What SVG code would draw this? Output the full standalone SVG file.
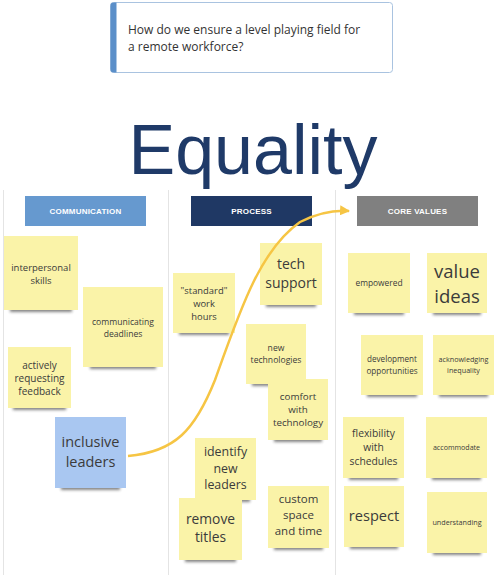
<svg xmlns="http://www.w3.org/2000/svg" width="500" height="575" viewBox="0 0 500 575">
<style>
.st{fill:#faf3a8}
.bl{fill:#a9c7f1}
.sh{fill:#333333;opacity:.6;filter:url(#blur)}
.t{font-family:"Open Sans","DejaVu Sans",sans-serif;fill:#3b3b3b;text-anchor:middle}
.hd{font-family:"Liberation Sans",Arial,sans-serif;font-weight:bold;font-size:8px;fill:#ffffff;text-anchor:middle;letter-spacing:.2px}
.div{stroke:#e4e4e4;stroke-width:1}
</style>
<defs>
<filter id="blur" x="-20%" y="-200%" width="140%" height="500%"><feGaussianBlur stdDeviation="1.6"/></filter>
<marker id="ah" viewBox="0 0 10 10" refX="9" refY="5" markerWidth="4" markerHeight="4" orient="auto" markerUnits="strokeWidth"><path d="M0,0 L10,5 L0,10 z" fill="#f6c544"/></marker>
</defs>
<rect width="500" height="575" fill="#ffffff"/>
<g id="dividers">
<line class="div" x1="3.5" y1="190" x2="3.5" y2="575"/>
<line class="div" x1="168.5" y1="190" x2="168.5" y2="575"/>
<line class="div" x1="335.5" y1="190" x2="335.5" y2="575"/>
</g>
<g id="question">
<rect x="110.5" y="2.5" width="282" height="70" rx="3" fill="#ffffff" stroke="#a9c3e0" stroke-width="1"/>
<path d="M113.5,2.5 h3 v70 h-3 a3,3 0 0 1 -3,-3 v-64 a3,3 0 0 1 3,-3z" fill="#5b8fc9"/>
<text x="128" y="34" font-family="'Open Sans','DejaVu Sans',sans-serif" font-size="12" fill="#333333">How do we ensure a level playing field for</text>
<text x="128" y="51" font-family="'Open Sans','DejaVu Sans',sans-serif" font-size="12" fill="#333333">a remote workforce?</text>
</g>
<g id="title">
<text x="253" y="174" font-family="'Liberation Sans',Arial,sans-serif" font-size="70" fill="#1f3a68" text-anchor="middle">Equality</text>
</g>
<g id="h-communication">
<rect x="25" y="196" width="121" height="30" fill="#6699cf"/>
<text class="hd" x="85.5" y="214">COMMUNICATION</text>
</g>
<g id="h-process">
<rect x="191" y="196" width="121" height="30" fill="#1f3864"/>
<text class="hd" x="251.5" y="214">PROCESS</text>
</g>
<g id="h-core">
<rect x="357" y="196" width="121" height="30" fill="#808080"/>
<text class="hd" x="417.5" y="214">CORE VALUES</text>
</g>
<g id="n-interpersonal">
<rect class="sh" x="10" y="307" width="62" height="5"/>
<rect class="st" x="4" y="236" width="74" height="74"/>
<text class="t" font-size="9.5" x="41" y="271">interpersonal</text>
<text class="t" font-size="9.5" x="41" y="284">skills</text>
</g>
<g id="n-communicating">
<rect class="sh" x="90" y="364" width="66" height="5"/>
<rect class="st" x="83" y="287" width="80" height="80"/>
<text class="t" font-size="8.6" x="123" y="325">communicating</text>
<text class="t" font-size="8.6" x="123" y="337">deadlines</text>
</g>
<g id="n-actively">
<rect class="sh" x="13" y="405" width="53" height="5"/>
<rect class="st" x="8" y="347" width="63" height="61"/>
<text class="t" font-size="10" x="39.5" y="369">actively</text>
<text class="t" font-size="10" x="39.5" y="382">requesting</text>
<text class="t" font-size="10" x="39.5" y="395">feedback</text>
</g>
<g id="n-inclusive">
<rect class="sh" x="61" y="485" width="59" height="5"/>
<rect class="bl" x="55" y="417" width="71" height="71"/>
<text class="t" font-size="14.5" x="90.5" y="447" fill="#2f3b4a">inclusive</text>
<text class="t" font-size="14.5" x="90.5" y="467" fill="#2f3b4a">leaders</text>
</g>
<g id="n-standard">
<rect class="sh" x="179" y="330" width="50" height="5"/>
<rect class="st" x="173" y="273" width="62" height="60"/>
<text class="t" font-size="9.4" x="204" y="294">"standard"</text>
<text class="t" font-size="9.4" x="204" y="307">work</text>
<text class="t" font-size="9.4" x="204" y="320">hours</text>
</g>
<g id="n-tech">
<rect class="sh" x="266" y="302" width="50" height="5"/>
<rect class="st" x="260" y="243" width="62" height="62"/>
<text class="t" font-size="14" x="291" y="269">tech</text>
<text class="t" font-size="14" x="291" y="288">support</text>
</g>
<g id="n-newtech">
<rect class="sh" x="252" y="381" width="48" height="5"/>
<rect class="st" x="246" y="324" width="60" height="60"/>
<text class="t" font-size="8.6" x="276" y="351">new</text>
<text class="t" font-size="8.6" x="276" y="363">technologies</text>
</g>
<g id="n-comfort">
<rect class="sh" x="274" y="437" width="48" height="5"/>
<rect class="st" x="268" y="379" width="60" height="61"/>
<text class="t" font-size="9.8" x="298" y="400">comfort</text>
<text class="t" font-size="9.8" x="298" y="413">with</text>
<text class="t" font-size="9.8" x="298" y="426">technology</text>
</g>
<g id="n-identify">
<rect class="sh" x="201" y="497" width="49" height="5"/>
<rect class="st" x="195" y="438" width="61" height="62"/>
<text class="t" font-size="12.4" x="225.5" y="456">identify</text>
<text class="t" font-size="12.4" x="225.5" y="473">new</text>
<text class="t" font-size="12.4" x="225.5" y="489">leaders</text>
</g>
<g id="n-remove">
<rect class="sh" x="185" y="557" width="51" height="5"/>
<rect class="st" x="179" y="498" width="63" height="62"/>
<text class="t" font-size="13.8" x="210.5" y="524">remove</text>
<text class="t" font-size="13.8" x="210.5" y="542">titles</text>
</g>
<g id="n-custom">
<rect class="sh" x="274" y="545" width="49" height="5"/>
<rect class="st" x="268" y="486" width="61" height="62"/>
<text class="t" font-size="11.5" x="298.5" y="503">custom</text>
<text class="t" font-size="11.5" x="298.5" y="519">space</text>
<text class="t" font-size="11.5" x="298.5" y="535">and time</text>
</g>
<g id="n-empowered">
<rect class="sh" x="354" y="310" width="50" height="5"/>
<rect class="st" x="348" y="253" width="62" height="60"/>
<text class="t" font-size="8.4" x="379" y="286">empowered</text>
</g>
<g id="n-value">
<rect class="sh" x="433" y="310" width="48" height="5"/>
<rect class="st" x="427" y="253" width="60" height="60"/>
<text class="t" font-size="18.5" x="457" y="278">value</text>
<text class="t" font-size="18.5" x="457" y="303">ideas</text>
</g>
<g id="n-development">
<rect class="sh" x="367" y="392" width="50" height="5"/>
<rect class="st" x="361" y="335" width="62" height="60"/>
<text class="t" font-size="8.1" x="392" y="362">development</text>
<text class="t" font-size="8.1" x="392" y="374">opportunities</text>
</g>
<g id="n-acknowledging">
<rect class="sh" x="439" y="392" width="49" height="5"/>
<rect class="st" x="433" y="335" width="61" height="60"/>
<text class="t" font-size="7.2" x="463.5" y="362">acknowledging</text>
<text class="t" font-size="7.2" x="463.5" y="373">inequality</text>
</g>
<g id="n-flexibility">
<rect class="sh" x="349" y="475" width="49" height="5"/>
<rect class="st" x="343" y="417" width="61" height="61"/>
<text class="t" font-size="10.3" x="373.5" y="437">flexibility</text>
<text class="t" font-size="10.3" x="373.5" y="451">with</text>
<text class="t" font-size="10.3" x="373.5" y="465">schedules</text>
</g>
<g id="n-accommodate">
<rect class="sh" x="432" y="475" width="49" height="5"/>
<rect class="st" x="426" y="417" width="61" height="61"/>
<text class="t" font-size="7.1" x="456.5" y="450">accommodate</text>
</g>
<g id="n-respect">
<rect class="sh" x="350" y="544" width="48" height="5"/>
<rect class="st" x="344" y="486" width="60" height="61"/>
<text class="t" font-size="14.6" x="374" y="521">respect</text>
</g>
<g id="n-understanding">
<rect class="sh" x="433" y="550" width="48" height="5"/>
<rect class="st" x="427" y="492" width="60" height="61"/>
<text class="t" font-size="7.2" x="457" y="525">understanding</text>
</g>
<g id="connectors">
<path d="M128,456 C175,452 195,430 215,380 C240,310 260,250 300,222 C320,212 335,210 349,211" fill="none" stroke="#f6c544" stroke-width="2.5" marker-end="url(#ah)"/>
</g>
</svg>
